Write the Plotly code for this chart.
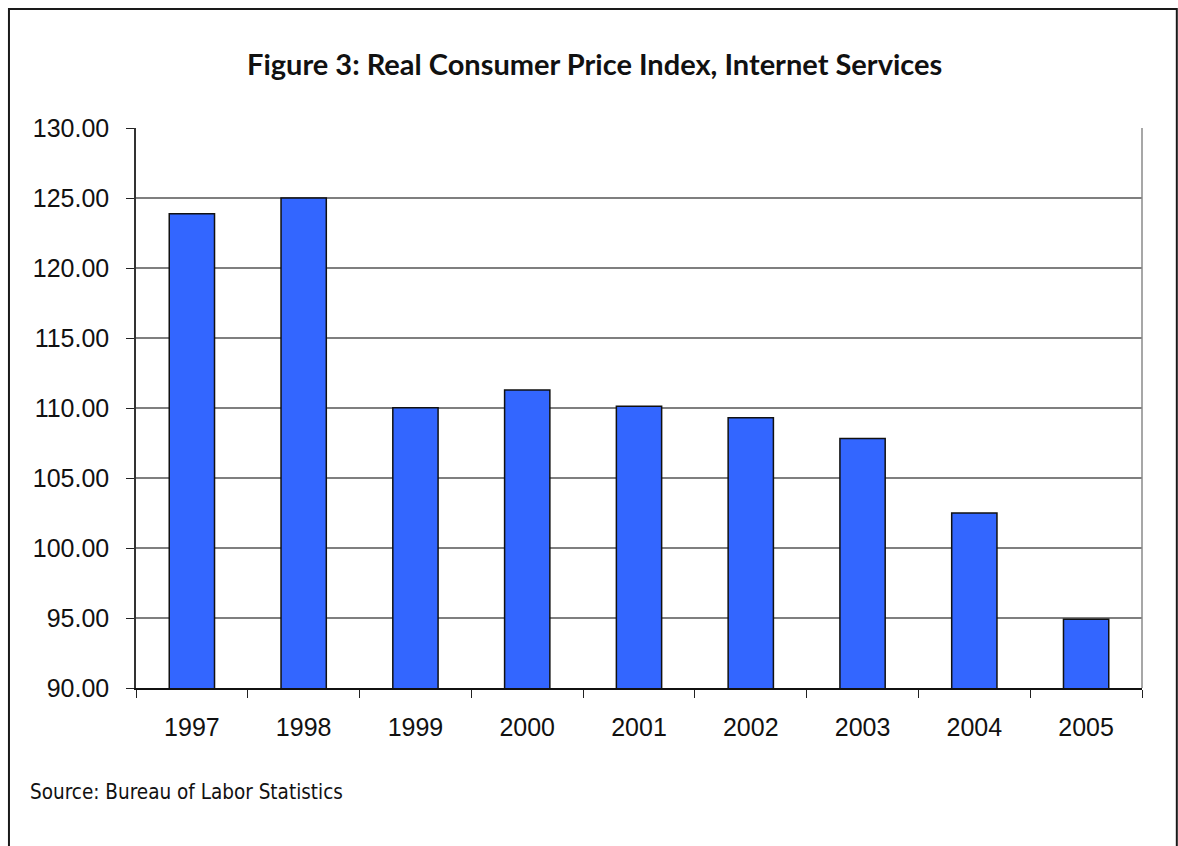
import plotly.graph_objects as go

# Real CPI for internet services by year
years = ["1997", "1998", "1999", "2000", "2001", "2002", "2003", "2004", "2005"]
cpi_values = [123.88, 125.00, 110.02, 111.29, 110.12, 109.31, 107.83, 102.50, 94.91]
y_ticks = [90, 95, 100, 105, 110, 115, 120, 125, 130]
y_tick_labels = [f"{v:.2f}" for v in y_ticks]

W, H = 1178, 846
# plot-area edges in pixels
PL, PR, PT, PB = 136, 1141.7, 128, 688.3
pw, ph = PR - PL, PB - PT


def px(x):
    return (x - PL) / pw


def py(y):
    return (PB - y) / ph


fig = go.Figure(
    go.Bar(
        x=years,
        y=cpi_values,
        width=0.405,
        marker=dict(color="#3366FF", line=dict(color="#111111", width=1.5)),
        hoverinfo="x+y",
    )
)

fig.update_layout(
    width=W,
    height=H,
    margin=dict(l=PL, r=W - PR, t=PT, b=H - PB, autoexpand=False),
    paper_bgcolor="white",
    plot_bgcolor="white",
    showlegend=False,
    bargap=0.6,
    font=dict(family="Liberation Sans, Arial, sans-serif", color="#111111"),
)

fig.update_xaxes(
    type="category",
    tickson="boundaries",
    ticks="outside",
    ticklen=8,
    tickwidth=1,
    tickcolor="#222222",
    showline=True,
    linecolor="#111111",
    linewidth=1.5,
    showgrid=False,
    tickfont=dict(size=25, color="#111111"),
    ticklabelstandoff=16,
    mirror=False,
)

fig.update_yaxes(
    range=[90, 130],
    tickvals=y_ticks,
    ticktext=y_tick_labels,
    ticks="outside",
    ticklen=8,
    tickwidth=1,
    tickcolor="#222222",
    showline=True,
    linecolor="#333333",
    linewidth=1.5,
    showgrid=True,
    gridcolor="#7f7f7f",
    gridwidth=1.5,
    zeroline=False,
    tickfont=dict(size=25, color="#111111"),
    ticklabelstandoff=12,
)

# gray frame on the right side of the plot area
fig.add_shape(
    type="line", xref="paper", yref="paper",
    x0=1, x1=1, y0=0, y1=1,
    line=dict(color="#8a8a8a", width=1.5),
)

# outer border around the whole chart
fig.add_shape(
    type="rect", xref="paper", yref="paper",
    x0=px(9), x1=px(1176.5), y0=py(9), y1=py(860),
    line=dict(color="#1a1a1a", width=2),
    fillcolor="rgba(0,0,0,0)",
    layer="below",
)

fig.add_annotation(
    text="<b>Figure 3: Real Consumer Price Index, Internet Services</b>",
    xref="paper", yref="paper",
    x=px(594), y=py(63),
    xanchor="center", yanchor="middle",
    showarrow=False,
    font=dict(family="Lato, Open Sans, sans-serif", size=29, color="#111111"),
)

fig.add_annotation(
    text="Source: Bureau of Labor Statistics",
    xref="paper", yref="paper",
    x=px(28), y=py(792),
    xanchor="left", yanchor="middle",
    showarrow=False,
    font=dict(family="DejaVu Sans Condensed, sans-serif", size=20.5, color="#111111"),
)

fig.write_html("out.html")
